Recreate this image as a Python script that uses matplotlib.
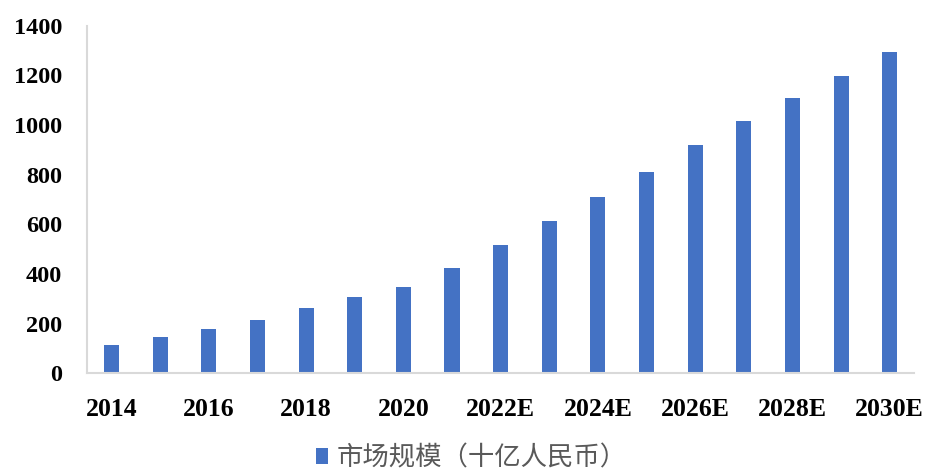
import matplotlib
matplotlib.use("Agg")
import matplotlib.pyplot as plt
import numpy as np

# Market size by year (billion RMB), E = estimate
years = ["2014", "2015", "2016", "2017", "2018", "2019", "2020", "2021",
         "2022E", "2023E", "2024E", "2025E", "2026E", "2027E", "2028E",
         "2029E", "2030E"]
market_size = [112, 144, 179, 215, 261, 309, 346, 422,
               515, 613, 712, 810, 919, 1015, 1109, 1197, 1296]
y_ticks = [0, 200, 400, 600, 800, 1000, 1200, 1400]
series_name = "市场规模（十亿人民币）"

bar_color = "#4472C4"
axis_color = "#D9D9D9"

fig = plt.figure(figsize=(9.28, 4.70), dpi=100)
ax = fig.add_axes([0.094, 0.206, 0.891, 0.739])

x = np.arange(len(years))
ax.bar(x, market_size, width=0.31, color=bar_color, label=series_name)

ax.set_xlim(-0.5, len(years) - 0.5)
ax.set_ylim(0, 1400)
ax.set_yticks(y_ticks)
ax.set_yticklabels([str(v) for v in y_ticks], family="Liberation Serif",
                   fontweight="bold", fontsize=17.5)
ax.set_xticks(x[::2])
ax.set_xticklabels(years[::2], family="Liberation Serif",
                   fontweight="bold", fontsize=18.5)
ax.tick_params(axis="both", length=0)
ax.tick_params(axis="x", pad=18)
ax.tick_params(axis="y", pad=18)

for side in ["top", "right"]:
    ax.spines[side].set_visible(False)
for side in ["left", "bottom"]:
    ax.spines[side].set_color(axis_color)
    ax.spines[side].set_linewidth(1.5)

leg = fig.legend(loc="center", bbox_to_anchor=(0.508, 0.026), frameon=False,
                 handlelength=0.45, handleheight=0.6, handletextpad=0.3,
                 prop={"family": ["Noto Sans CJK SC", "DejaVu Sans"], "size": 19})
for t in leg.get_texts():
    t.set_color("#595959")

fig.savefig("out.png", dpi=100)
